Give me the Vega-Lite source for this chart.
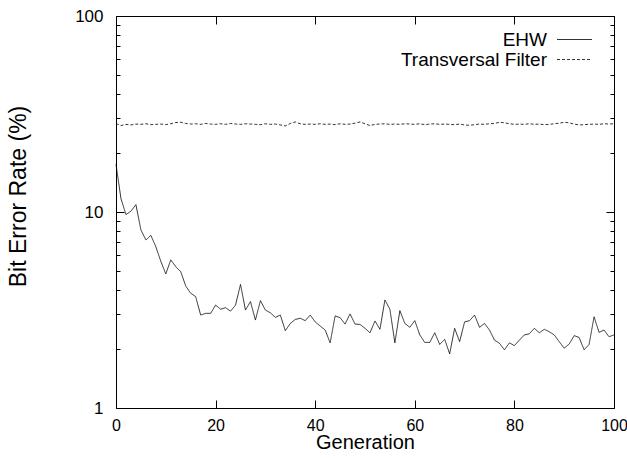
{
  "$schema": "https://vega.github.io/schema/vega-lite/v6.json",
  "width": 498,
  "height": 392,
  "autosize": {"type": "none"},
  "padding": {"left": 116, "top": 16, "right": 13, "bottom": 50},
  "background": "white",
  "config": {
    "view": {"stroke": "black", "strokeWidth": 1},
    "font": "Liberation Sans",
    "axis": {"domain": false, "grid": false, "labelFont": "Liberation Sans", "titleFont": "Liberation Sans", "labelColor": "black", "titleColor": "black", "tickColor": "black", "titleFontWeight": "normal", "labelFontSize": 17, "titleFontSize": 20},
    "legend": {"orient": "none", "legendX": 449, "legendY": 14, "padding": 0, "symbolType": "M-2,0H2", "symbolSize": 306, "symbolStrokeWidth": 0.8, "symbolStrokeColor": "black", "labelFont": "Liberation Sans", "labelFontSize": 19, "labelColor": "black", "labelAlign": "right", "labelOffset": -37, "rowPadding": -1}
  },
  "data": {"values": [
    {"g":0,"EHW":17.5,"Transversal Filter":28.3},{"g":1,"EHW":11.7,"Transversal Filter":27.6},{"g":2,"EHW":9.7,"Transversal Filter":28.0},{"g":3,"EHW":10.1,"Transversal Filter":27.8},{"g":4,"EHW":10.9,"Transversal Filter":28.1},
    {"g":5,"EHW":8.1,"Transversal Filter":28.0},{"g":6,"EHW":7.2,"Transversal Filter":28.2},{"g":7,"EHW":7.6,"Transversal Filter":27.9},{"g":8,"EHW":6.65,"Transversal Filter":28.0},{"g":9,"EHW":5.6,"Transversal Filter":28.1},
    {"g":10,"EHW":4.83,"Transversal Filter":27.9},{"g":11,"EHW":5.7,"Transversal Filter":28.2},{"g":12,"EHW":5.26,"Transversal Filter":28.6},{"g":13,"EHW":4.96,"Transversal Filter":28.7},{"g":14,"EHW":4.19,"Transversal Filter":28.3},
    {"g":15,"EHW":3.85,"Transversal Filter":28.1},{"g":16,"EHW":3.7,"Transversal Filter":28.2},{"g":17,"EHW":2.98,"Transversal Filter":28.0},{"g":18,"EHW":3.04,"Transversal Filter":28.3},{"g":19,"EHW":3.04,"Transversal Filter":28.1},
    {"g":20,"EHW":3.35,"Transversal Filter":28.0},{"g":21,"EHW":3.19,"Transversal Filter":28.2},{"g":22,"EHW":3.25,"Transversal Filter":28.0},{"g":23,"EHW":3.12,"Transversal Filter":28.3},{"g":24,"EHW":3.35,"Transversal Filter":28.1},
    {"g":25,"EHW":4.27,"Transversal Filter":28.0},{"g":26,"EHW":3.16,"Transversal Filter":28.2},{"g":27,"EHW":3.49,"Transversal Filter":28.1},{"g":28,"EHW":2.81,"Transversal Filter":28.0},{"g":29,"EHW":3.53,"Transversal Filter":27.9},
    {"g":30,"EHW":3.16,"Transversal Filter":28.2},{"g":31,"EHW":3.06,"Transversal Filter":28.0},{"g":32,"EHW":2.9,"Transversal Filter":28.1},{"g":33,"EHW":2.98,"Transversal Filter":27.8},{"g":34,"EHW":2.48,"Transversal Filter":27.5},
    {"g":35,"EHW":2.7,"Transversal Filter":28.3},{"g":36,"EHW":2.83,"Transversal Filter":28.8},{"g":37,"EHW":2.87,"Transversal Filter":28.2},{"g":38,"EHW":2.79,"Transversal Filter":28.0},{"g":39,"EHW":2.98,"Transversal Filter":28.1},
    {"g":40,"EHW":2.75,"Transversal Filter":28.0},{"g":41,"EHW":2.62,"Transversal Filter":28.2},{"g":42,"EHW":2.5,"Transversal Filter":28.0},{"g":43,"EHW":2.15,"Transversal Filter":28.1},{"g":44,"EHW":2.95,"Transversal Filter":27.9},
    {"g":45,"EHW":2.89,"Transversal Filter":28.2},{"g":46,"EHW":2.68,"Transversal Filter":28.0},{"g":47,"EHW":3.02,"Transversal Filter":28.1},{"g":48,"EHW":2.68,"Transversal Filter":28.4},{"g":49,"EHW":2.67,"Transversal Filter":28.8},
    {"g":50,"EHW":2.55,"Transversal Filter":28.2},{"g":51,"EHW":2.42,"Transversal Filter":27.6},{"g":52,"EHW":2.78,"Transversal Filter":28.0},{"g":53,"EHW":2.52,"Transversal Filter":28.1},{"g":54,"EHW":3.56,"Transversal Filter":28.2},
    {"g":55,"EHW":3.19,"Transversal Filter":28.0},{"g":56,"EHW":2.15,"Transversal Filter":28.1},{"g":57,"EHW":3.14,"Transversal Filter":28.0},{"g":58,"EHW":2.7,"Transversal Filter":28.2},{"g":59,"EHW":2.58,"Transversal Filter":28.1},
    {"g":60,"EHW":2.79,"Transversal Filter":28.0},{"g":61,"EHW":2.36,"Transversal Filter":28.2},{"g":62,"EHW":2.16,"Transversal Filter":27.9},{"g":63,"EHW":2.16,"Transversal Filter":28.1},{"g":64,"EHW":2.42,"Transversal Filter":28.2},
    {"g":65,"EHW":2.11,"Transversal Filter":28.0},{"g":66,"EHW":2.24,"Transversal Filter":28.1},{"g":67,"EHW":1.89,"Transversal Filter":28.0},{"g":68,"EHW":2.55,"Transversal Filter":27.9},{"g":69,"EHW":2.18,"Transversal Filter":28.1},
    {"g":70,"EHW":2.75,"Transversal Filter":27.8},{"g":71,"EHW":2.79,"Transversal Filter":27.7},{"g":72,"EHW":2.98,"Transversal Filter":27.9},{"g":73,"EHW":2.58,"Transversal Filter":28.1},{"g":74,"EHW":2.7,"Transversal Filter":28.0},
    {"g":75,"EHW":2.5,"Transversal Filter":28.2},{"g":76,"EHW":2.22,"Transversal Filter":28.3},{"g":77,"EHW":2.14,"Transversal Filter":28.7},{"g":78,"EHW":1.98,"Transversal Filter":28.5},{"g":79,"EHW":2.15,"Transversal Filter":28.2},
    {"g":80,"EHW":2.08,"Transversal Filter":28.0},{"g":81,"EHW":2.22,"Transversal Filter":28.1},{"g":82,"EHW":2.36,"Transversal Filter":28.0},{"g":83,"EHW":2.39,"Transversal Filter":28.2},{"g":84,"EHW":2.55,"Transversal Filter":28.0},
    {"g":85,"EHW":2.42,"Transversal Filter":28.1},{"g":86,"EHW":2.52,"Transversal Filter":27.9},{"g":87,"EHW":2.45,"Transversal Filter":28.0},{"g":88,"EHW":2.36,"Transversal Filter":28.2},{"g":89,"EHW":2.18,"Transversal Filter":28.4},
    {"g":90,"EHW":2.02,"Transversal Filter":28.7},{"g":91,"EHW":2.12,"Transversal Filter":28.5},{"g":92,"EHW":2.34,"Transversal Filter":28.1},{"g":93,"EHW":2.29,"Transversal Filter":27.8},{"g":94,"EHW":1.98,"Transversal Filter":27.9},
    {"g":95,"EHW":2.11,"Transversal Filter":28.0},{"g":96,"EHW":2.92,"Transversal Filter":28.1},{"g":97,"EHW":2.43,"Transversal Filter":28.0},{"g":98,"EHW":2.5,"Transversal Filter":28.2},{"g":99,"EHW":2.31,"Transversal Filter":28.1},
    {"g":100,"EHW":2.36,"Transversal Filter":28.2}
  ]},
  "transform": [{"fold": ["EHW", "Transversal Filter"], "as": ["series", "ber"]}],
  "layer": [
    {
      "mark": {"type": "line", "strokeWidth": 0.8, "color": "black"},
      "encoding": {
        "x": {"field": "g", "type": "quantitative", "scale": {"domain": [0, 100], "nice": false, "zero": false},
              "axis": {"orient": "bottom", "values": [0, 20, 40, 60, 80, 100], "tickSize": -8, "labelPadding": 17, "labelFontSize": 16, "title": "Generation", "titlePadding": -1, "labelFlush": false}},
        "y": {"field": "ber", "type": "quantitative", "scale": {"type": "log", "domain": [1, 100], "nice": false},
              "axis": {"orient": "left", "values": [1, 10, 100], "tickSize": -8, "labelPadding": 21, "title": "Bit Error Rate (%)", "titleFontSize": 23, "titlePadding": 44, "titleY": 180, "labelFlush": false}},
        "strokeDash": {"field": "series", "type": "nominal",
                       "scale": {"domain": ["EHW", "Transversal Filter"], "range": [[1, 0], [3, 2]]},
                       "legend": {"title": null}}
      }
    },
    {
      "mark": {"type": "line", "opacity": 0},
      "encoding": {
        "x": {"field": "g", "type": "quantitative", "scale": {"domain": [0, 100], "nice": false, "zero": false},
              "axis": {"orient": "top", "values": [0, 20, 40, 60, 80, 100], "tickSize": -8, "labels": false, "title": null}},
        "y": {"field": "ber", "type": "quantitative", "scale": {"type": "log", "domain": [1, 100], "nice": false},
              "axis": {"orient": "right", "values": [1, 10, 100], "tickSize": -8, "labels": false, "title": null}}
      }
    },
    {
      "mark": {"type": "line", "opacity": 0},
      "encoding": {
        "x": {"field": "g", "type": "quantitative", "scale": {"domain": [0, 100], "nice": false, "zero": false}, "axis": null},
        "y": {"field": "ber", "type": "quantitative", "scale": {"type": "log", "domain": [1, 100], "nice": false},
              "axis": {"orient": "left", "values": [2, 3, 4, 5, 6, 7, 8, 9, 20, 30, 40, 50, 60, 70, 80, 90], "tickSize": -4, "labels": false, "title": null}}
      }
    },
    {
      "mark": {"type": "line", "opacity": 0},
      "encoding": {
        "x": {"field": "g", "type": "quantitative", "scale": {"domain": [0, 100], "nice": false, "zero": false}, "axis": null},
        "y": {"field": "ber", "type": "quantitative", "scale": {"type": "log", "domain": [1, 100], "nice": false},
              "axis": {"orient": "right", "values": [2, 3, 4, 5, 6, 7, 8, 9, 20, 30, 40, 50, 60, 70, 80, 90], "tickSize": -4, "labels": false, "title": null}}
      }
    }
  ],
  "resolve": {"axis": {"x": "independent", "y": "independent"}}
}
